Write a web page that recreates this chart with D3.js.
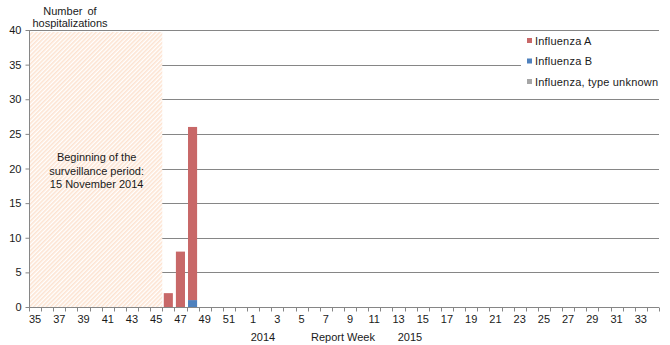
<!DOCTYPE html>
<html>
<head>
<meta charset="utf-8">
<script src="https://cdn.jsdelivr.net/npm/d3@7"></script>
<style>
body { margin: 0; background: #fff; }
text { font-family: "Liberation Sans", Arial, sans-serif; font-size: 11px; fill: #1a1a1a; }
</style>
</head>
<body>
<div class="content"></div>
<script>
var weeks = [35,36,37,38,39,40,41,42,43,44,45,46,47,48,49,50,51,52,
  1,2,3,4,5,6,7,8,9,10,11,12,13,14,15,16,17,18,19,20,21,22,23,24,25,26,27,28,29,30,31,32,33,34];
var influenzaA = {46: 2, 47: 8, 48: 25};
var influenzaB = {48: 1};
var influenzaUnknown = {};
var yTicks = [0,5,10,15,20,25,30,35,40];
var seriesNames = ["Influenza A", "Influenza B", "Influenza, type unknown"];
var seriesColors = ["#c86868", "#4f81bd", "#a6a6a6"];
var preSeasonWeeks = [35,36,37,38,39,40,41,42,43,44,45];

var width = 670, height = 345;
var pLeft = 29, pRight = 659, pTop = 30, pBottom = 307;

var svg = d3.select(".content").append("svg").attr("width", width).attr("height", height);

var rows = weeks.map(function(w, i){
  return {key: i, week: w, a: influenzaA[w] || 0, b: influenzaB[w] || 0, u: influenzaUnknown[w] || 0};
});

var x = d3.scaleBand().domain(rows.map(function(d){ return d.key; })).range([pLeft, pRight]).paddingInner(0.25).paddingOuter(0.125);
var xs = d3.scaleBand().domain(rows.map(function(d){ return d.key; })).range([pLeft, pRight]);
var y = d3.scaleLinear().domain([0, 40]).range([pBottom, pTop]);

// hatch pattern
var defs = svg.append("defs");
var pat = defs.append("pattern").attr("id", "hatch").attr("patternUnits", "userSpaceOnUse")
  .attr("width", 3).attr("height", 3).attr("patternTransform", "rotate(45)");
pat.append("rect").attr("width", 3).attr("height", 3).attr("fill", "#fff");
pat.append("rect").attr("width", 1.6).attr("height", 3).attr("fill", "#fde3d1");

// gridlines
svg.append("g").selectAll("line").data(yTicks.filter(function(t){ return t > 0; })).enter().append("line")
  .attr("x1", pLeft).attr("x2", pRight)
  .attr("y1", function(d){ return Math.round(y(d)) + 0.5; }).attr("y2", function(d){ return Math.round(y(d)) + 0.5; })
  .attr("stroke", "#868686").attr("stroke-width", 1);

// surveillance area
var hx0 = xs(0), hx1 = xs(preSeasonWeeks.length - 1) + xs.bandwidth();
svg.append("rect").attr("x", hx0 + 1).attr("y", y(40) + 2).attr("width", hx1 - hx0 - 1).attr("height", y(0) - y(40) - 2)
  .attr("fill", "url(#hatch)");

svg.append("text").attr("x", (hx0 + hx1) / 2 + 1).attr("y", 161).attr("text-anchor", "middle")
  .selectAll("tspan").data(["Beginning of the", "surveillance period:", "15 November 2014"]).enter().append("tspan")
  .attr("x", (hx0 + hx1) / 2 + 1).attr("dy", function(d, i){ return i ? 13.5 : 0; })
  .text(function(d){ return d; });

// bars (B at the bottom, then A, then unknown)
var order = ["b", "a", "u"];
rows.forEach(function(d){
  var base = 0;
  order.forEach(function(k){
    var v = d[k];
    if (v > 0) {
      svg.append("rect").attr("x", x(d.key)).attr("width", x.bandwidth())
        .attr("y", y(base + v)).attr("height", y(base) - y(base + v))
        .attr("fill", seriesColors[["a", "b", "u"].indexOf(k)]);
    }
    base += v;
  });
});

// axes
var yAxis = svg.append("g").attr("transform", "translate(" + (pLeft + 0.5) + ",0)")
  .call(d3.axisLeft(y).tickValues(yTicks).tickSize(4).tickPadding(4));
yAxis.select(".domain").attr("stroke", "#868686").attr("d", "M0," + pTop + "V" + pBottom);
yAxis.selectAll(".tick line").attr("stroke", "#868686");
yAxis.selectAll("text").attr("font-size", null).attr("font-family", null).attr("fill", null);

var xAxis = svg.append("g").attr("transform", "translate(0," + (pBottom + 0.5) + ")");
xAxis.append("line").attr("x1", pLeft).attr("x2", pRight).attr("stroke", "#868686");
xAxis.selectAll("line.t").data(d3.range(weeks.length + 1)).enter().append("line").attr("class", "t")
  .attr("x1", function(i){ return Math.round(pLeft + i * xs.step()) + 0.5; })
  .attr("x2", function(i){ return Math.round(pLeft + i * xs.step()) + 0.5; })
  .attr("y1", 0).attr("y2", 4).attr("stroke", "#868686");
xAxis.selectAll("text").data(rows.filter(function(d, i){ return i % 2 === 0; })).enter().append("text")
  .attr("x", function(d){ return xs(d.key) + xs.bandwidth() / 2; }).attr("y", 15).attr("text-anchor", "middle")
  .text(function(d){ return d.week; });

svg.append("text").attr("x", 263).attr("y", 341).attr("text-anchor", "middle").text("2014");
svg.append("text").attr("x", 343).attr("y", 341).attr("text-anchor", "middle").text("Report Week");
svg.append("text").attr("x", 410).attr("y", 341).attr("text-anchor", "middle").text("2015");

// y title
svg.append("text").attr("x", 70).attr("y", 15).attr("text-anchor", "middle").style("word-spacing", "2px").text("Number of");
svg.append("text").attr("x", 70).attr("y", 27).attr("text-anchor", "middle").text("hospitalizations");

// legend
var lg = svg.append("g");
lg.append("rect").attr("x", 521).attr("y", 33).attr("width", 139).attr("height", 58).attr("fill", "#fff");
seriesNames.forEach(function(n, i){
  var yy = 41 + i * 20.5;
  lg.append("rect").attr("x", 527).attr("y", yy - 3).attr("width", 5).attr("height", 5).attr("fill", seriesColors[i]);
  lg.append("text").attr("x", 535).attr("y", yy + 3.5).style("letter-spacing", "0.2px").text(n);
});
</script>
</body>
</html>
